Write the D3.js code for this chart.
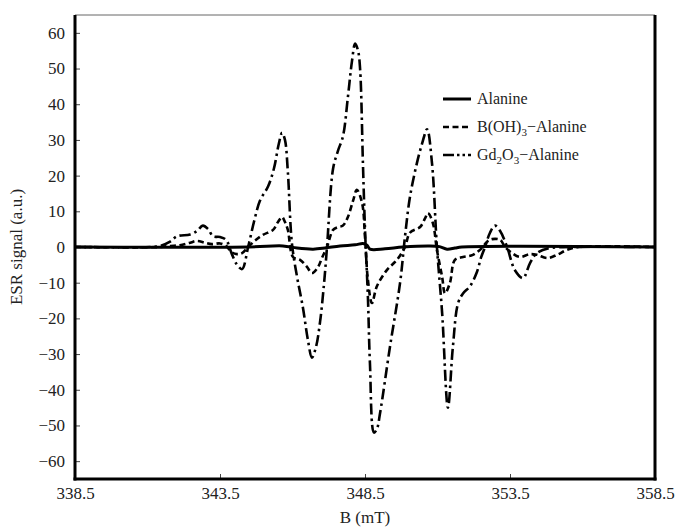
<!DOCTYPE html>
<html>
<head>
<meta charset="utf-8">
<script src="https://cdn.jsdelivr.net/npm/d3@7/dist/d3.min.js"></script>
<style>
  body { margin: 0; background: #fff; }
  svg { display: block; }
  text { font-family: "Liberation Serif", "Times New Roman", serif; fill: #222; }
</style>
</head>
<body>
<svg id="chart" width="676" height="529"></svg>
<script>
// ---- data ----
const xTicks = [338.5, 343.5, 348.5, 353.5, 358.5];
const yTicks = [-60, -50, -40, -30, -20, -10, 0, 10, 20, 30, 40, 50, 60];

const alanineB = [338.5, 344.5, 345.67, 346.16, 346.71, 347.12, 347.64, 348.16, 348.43, 348.57, 348.67, 349.19, 349.81, 350.74, 351.07, 351.33, 351.6, 351.84, 358.5];
const alanineS = [0, 0, 0.3, -0.3, -0.6, -0.3, 0.3, 0.6, 1.0, 0.5, -0.6, -0.5, 0, 0.3, 0.1, -0.6, -0.3, 0, 0];

const borB = [338.5, 341.43, 341.78, 342.12, 342.47, 342.71, 342.98, 343.22, 343.50, 343.71, 343.91, 344.09, 344.26, 344.47, 344.71, 344.98, 345.33, 345.50, 345.64, 345.74, 345.84, 346.02, 346.26, 346.50, 346.67, 346.88, 347.02, 347.19, 347.40, 347.57, 347.74, 347.91, 348.09, 348.22, 348.40, 348.50, 348.60, 348.74, 348.91, 349.26, 349.60, 349.88, 350.05, 350.40, 350.57, 350.67, 350.84, 350.98, 351.16, 351.26, 351.43, 351.60, 351.88, 352.22, 352.53, 352.71, 352.88, 353.16, 353.33, 353.57, 353.84, 354.19, 354.43, 354.78, 355.12, 355.47, 355.91, 358.5];
const borS = [0, 0, 0.3, 0.5, 1.2, 1.7, 1.2, 0.8, 1.0, 0.3, -1.5, -2.0, -1.7, 0, 1.8, 3.4, 4.8, 7.0, 8.4, 7.0, 4.8, -2.8, -3.6, -5.6, -7.3, -5.6, -3.0, 0, 4.8, 5.6, 6.0, 8.4, 13, 16, 12.3, 2.8, -9.2, -15.7, -11, -6.4, -3.6, 0, 4.0, 5.6, 8.0, 9.5, 6.7, -0.8, -8.4, -13, -10, -3.6, -2.8, -2.2, -0.3, 1.5, 2.2, 2.0, 0, -1.7, -2.8, -2.0, -2.2, -3.1, -2.2, -0.8, 0, 0];

const gdB = [338.5, 341.09, 341.43, 341.78, 342.02, 342.47, 342.71, 342.91, 343.09, 343.26, 343.50, 343.71, 343.91, 344.09, 344.26, 344.47, 344.67, 344.88, 345.16, 345.36, 345.53, 345.64, 345.74, 345.84, 345.98, 346.16, 346.36, 346.53, 346.67, 346.81, 346.95, 347.09, 347.19, 347.40, 347.57, 347.74, 347.91, 348.05, 348.16, 348.26, 348.33, 348.43, 348.50, 348.60, 348.67, 348.81, 348.91, 349.02, 349.36, 349.71, 349.88, 350.05, 350.29, 350.47, 350.64, 350.81, 350.98, 351.16, 351.36, 351.53, 351.71, 351.88, 352.12, 352.36, 352.50, 352.64, 352.81, 352.98, 353.16, 353.40, 353.67, 353.95, 354.19, 354.43, 354.88, 355.57, 358.5];
const gdS = [0, 0, 0.3, 1.5, 3.0, 3.5, 4.5, 6.0, 5.0, 3.0, 2.8, 2.0, -2.0, -5.0, -6.2, 0, 7, 13, 17, 22, 29, 32, 30, 21, 1, -8.5, -17, -26, -31, -28, -21, -10, 0, 22, 27, 31, 42, 52, 57, 55, 50, 23, 5, -14, -32.5, -52, -51, -46.5, -28, -10, 3, 14, 23.5, 29, 33, 23.5, 0, -18.5, -45, -28, -15.7, -13, -11, -7, -3, 0, 4, 6, 4.5, 0, -6.5, -8.7, -4.5, -1.7, -0.3, 0, 0];

const seriesNames = ["Alanine", "B(OH)3\u2212Alanine", "Gd2O3\u2212Alanine"];

// ---- layout ----
const svg = d3.select("#chart");
const margin = { left: 75, right: 21, top: 15, bottom: 50 };
const W = 676, H = 529;
const x = d3.scaleLinear().domain([338.5, 358.5]).range([margin.left, W - margin.right]);
const y = d3.scaleLinear().domain([-65, 65]).range([H - margin.bottom, margin.top]);

svg.append("clipPath").attr("id", "clip").append("rect")
  .attr("x", margin.left).attr("y", margin.top)
  .attr("width", W - margin.right - margin.left).attr("height", H - margin.bottom - margin.top);

// axes
const yAxis = d3.axisLeft(y).tickValues(yTicks).tickSizeInner(-5).tickSizeOuter(0).tickPadding(10);
const gy = svg.append("g").attr("transform", `translate(${margin.left},0)`).call(yAxis);
gy.select(".domain").remove();
gy.selectAll("line").attr("stroke", "#444");
gy.selectAll("text").style("font-size", "17px").attr("fill", "#222");

const xAxis = d3.axisBottom(x).tickValues(xTicks).tickFormat(d3.format(".1f")).tickSizeInner(-5).tickSizeOuter(0).tickPadding(8);
const gx = svg.append("g").attr("transform", `translate(0,${H - margin.bottom})`).call(xAxis);
gx.select(".domain").remove();
gx.selectAll("line").attr("stroke", "#444");
gx.selectAll("text").style("font-size", "17px").attr("fill", "#222");

// frame
const x0 = margin.left, x1 = W - margin.right, y0 = margin.top, y1 = H - margin.bottom;
svg.append("line").attr("x1", x0).attr("x2", x1).attr("y1", y0).attr("y2", y0).attr("stroke", "#666").attr("stroke-width", 1);
svg.append("line").attr("x1", x0).attr("x2", x0).attr("y1", y0).attr("y2", y1 + 1.5).attr("stroke", "#000").attr("stroke-width", 3);
svg.append("line").attr("x1", x1).attr("x2", x1).attr("y1", y0).attr("y2", y1 + 1.5).attr("stroke", "#000").attr("stroke-width", 3);
svg.append("line").attr("x1", x0 - 1.5).attr("x2", x1 + 1.5).attr("y1", y1).attr("y2", y1).attr("stroke", "#000").attr("stroke-width", 3);

// titles
svg.append("text").attr("x", (x0 + x1) / 2).attr("y", 523).attr("text-anchor", "middle")
  .style("font-size", "17px").text("B (mT)");
svg.append("text").attr("transform", `translate(22,${(y0 + y1) / 2}) rotate(-90)`).attr("text-anchor", "middle")
  .style("font-size", "17px").text("ESR signal (a.u.)");

// lines
const line = d3.line().x(d => x(d[0])).y(d => y(d[1])).curve(d3.curveCatmullRom.alpha(0.5));
const styles = [
  { w: 3, dash: null },
  { w: 2.6, dash: "6,3.5" },
  { w: 2.6, dash: "11,4,2.5,4" }
];
const data = [
  d3.zip(alanineB, alanineS),
  d3.zip(borB, borS),
  d3.zip(gdB, gdS)
];
const plot = svg.append("g").attr("clip-path", "url(#clip)");
[2, 1, 0].forEach(i => {
  plot.append("path").datum(data[i]).attr("d", line)
    .attr("fill", "none").attr("stroke", "#000")
    .attr("stroke-width", styles[i].w)
    .attr("stroke-dasharray", styles[i].dash)
    .attr("stroke-linejoin", "round");
});

// legend
const legY = [99, 127, 155];
const legDash = [null, "6,3.5", "11,3,2.5,3,2.5,3"];
const lg = svg.append("g");
seriesNames.forEach((name, i) => {
  lg.append("line").attr("x1", 443).attr("x2", 471).attr("y1", legY[i]).attr("y2", legY[i])
    .attr("stroke", "#000").attr("stroke-width", styles[i].w).attr("stroke-dasharray", legDash[i]);
});
const tx = 477;
lg.append("text").attr("x", tx).attr("y", legY[0] + 5).style("font-size", "16px").text("Alanine");
const t1 = lg.append("text").attr("x", tx).attr("y", legY[1] + 5).style("font-size", "16px");
t1.append("tspan").text("B(OH)");
t1.append("tspan").attr("dy", 4).style("font-size", "11px").text("3");
t1.append("tspan").attr("dy", -4).text("\u2212Alanine");
const t2 = lg.append("text").attr("x", tx).attr("y", legY[2] + 5).style("font-size", "16px");
t2.append("tspan").text("Gd");
t2.append("tspan").attr("dy", 4).style("font-size", "11px").text("2");
t2.append("tspan").attr("dy", -4).text("O");
t2.append("tspan").attr("dy", 4).style("font-size", "11px").text("3");
t2.append("tspan").attr("dy", -4).text("\u2212Alanine");
</script>
</body>
</html>
